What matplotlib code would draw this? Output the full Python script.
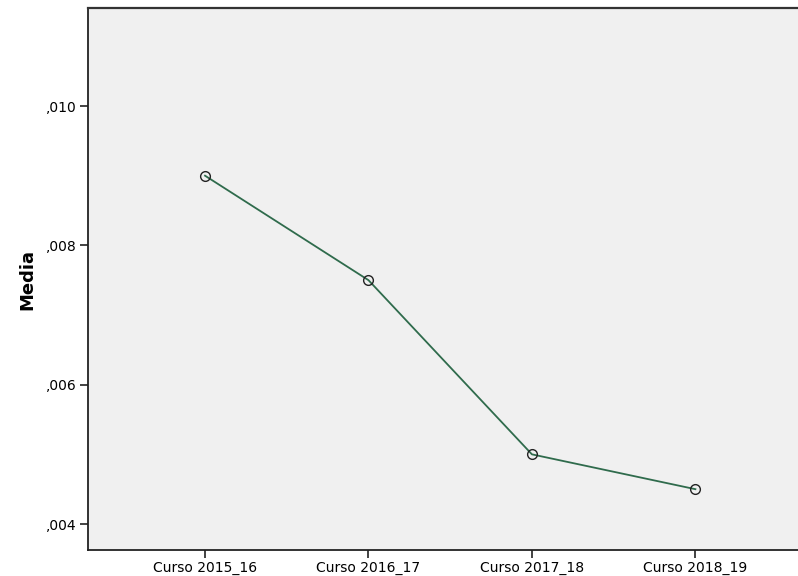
import matplotlib

matplotlib.use("Agg")
import matplotlib.pyplot as plt
from matplotlib.ticker import FuncFormatter

cursos = ["Curso 2015_16", "Curso 2016_17", "Curso 2017_18", "Curso 2018_19"]
media = [0.0090, 0.0075, 0.0050, 0.0045]
y_ticks = [0.004, 0.006, 0.008, 0.010]

W, H = 798, 576
fig = plt.figure(figsize=(W / 100, H / 100), dpi=100)
# plot area in pixels: left 88, top 8, bottom 550, right past the image edge
ax = fig.add_axes([88 / W, (H - 550) / H, (W - 88 + 2) / W, (550 - 8) / H])
ax.set_facecolor("#f0f0f0")

x = list(range(len(cursos)))
ax.plot(x, media, "-", color="#2f6b4c", lw=1.3, zorder=2)
ax.plot(x, media, "o", ms=7, mfc="none", mec="#222222", mew=1.0, zorder=3)

ax.set_xlim(-0.716, 3.64)
ax.set_ylim(0.003627, 0.011407)
ax.set_xticks(x)
ax.set_xticklabels(cursos)
ax.set_yticks(y_ticks)
# formato SPSS: sin cero inicial y con coma decimal
ax.yaxis.set_major_formatter(FuncFormatter(lambda v, _: f"{v:.3f}".lstrip("0").replace(".", ",")))

ax.tick_params(axis="both", direction="out", length=6, width=1.2, colors="#222222",
               labelsize=10, labelcolor="black", pad=2)
for side in ("left", "bottom"):
    ax.spines[side].set_linewidth(1.3)
    ax.spines[side].set_color("#222222")
ax.spines["top"].set_linewidth(1.6)
ax.spines["top"].set_color("#333333")
ax.spines["right"].set_visible(False)

ax.set_ylabel("Media", fontsize=13, fontweight="bold", labelpad=7)

fig.savefig("out.png", dpi=100)
plt.close(fig)
